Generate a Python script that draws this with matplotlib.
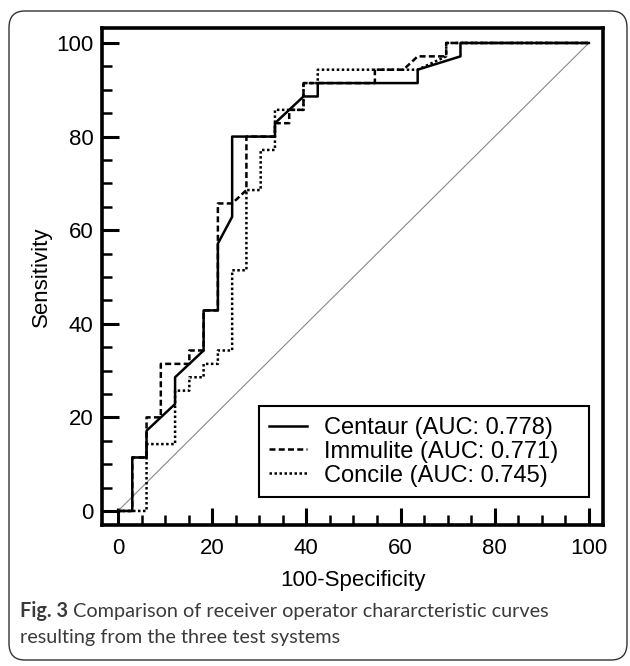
import matplotlib
matplotlib.use("Agg")
import matplotlib.pyplot as plt
from matplotlib.patches import FancyBboxPatch
from matplotlib.ticker import MultipleLocator

# ROC curves (100-specificity, sensitivity)
centaur_x = [0, 3.03, 3.03, 6.06, 6.06, 12.12, 12.12, 18.18, 18.18, 21.21, 21.21,
             24.24, 24.24, 33.33, 33.33, 39.39, 42.42, 42.42, 63.64, 63.64, 72.73,
             72.73, 100]
centaur_y = [0, 0, 11.43, 11.43, 17.14, 22.86, 28.57, 34.29, 42.86, 42.86, 57.14,
             62.86, 80, 80, 82.86, 88.57, 88.57, 91.43, 91.43, 94.29, 97.14,
             100, 100]

immulite_x = [0, 3.03, 3.03, 6.06, 6.06, 9.09, 9.09, 15.15, 15.15, 18.18, 18.18,
              21.21, 21.21, 24.24, 27.27, 27.27, 33.33, 33.33, 36.36, 36.36, 39.39,
              39.39, 54.55, 54.55, 60.61, 63.64, 69.70, 69.70, 100]
immulite_y = [0, 0, 11.43, 11.43, 20, 20, 31.43, 31.43, 34.29, 34.29, 42.86,
              42.86, 65.71, 65.71, 68.57, 80, 80, 82.86, 82.86, 85.71, 85.71,
              91.43, 91.43, 94.29, 94.29, 97.14, 97.14, 100, 100]

concile_x = [0, 6.06, 6.06, 12.12, 12.12, 15.15, 15.15, 18.18, 18.18, 21.21, 21.21,
             24.24, 24.24, 27.27, 27.27, 30.30, 30.30, 33.33, 33.33, 39.39, 39.39,
             42.42, 42.42, 63.64, 69.70, 69.70, 100]
concile_y = [0, 0, 14.29, 14.29, 25.71, 25.71, 28.57, 28.57, 31.43, 31.43, 34.29,
             34.29, 51.43, 51.43, 68.57, 68.57, 77.14, 77.14, 85.71, 85.71, 91.43,
             91.43, 94.29, 94.29, 97.14, 100, 100]

labels = ["Centaur (AUC: 0.778)", "Immulite (AUC: 0.771)", "Concile (AUC: 0.745)"]
ticks = [0, 20, 40, 60, 80, 100]

W, H = 630, 666
fig = plt.figure(figsize=(W / 100, H / 100), dpi=100)

# rounded frame around the whole figure panel
frame = FancyBboxPatch((9 / W, 6 / H), 618 / W, 649 / H,
                       boxstyle="round,pad=0,rounding_size=0.025",
                       transform=fig.transFigure, fill=False,
                       edgecolor="#333333", linewidth=1.0)
fig.patches.append(frame)

ax = fig.add_axes([102 / W, 1 - 525 / H, 501 / W, 497 / H])

ax.plot([0, 100], [0, 100], color="#888888", linewidth=0.8)
ax.plot(centaur_x, centaur_y, color="black", linewidth=1.8, linestyle="-",
        label=labels[0])
ax.plot(immulite_x, immulite_y, color="black", linewidth=1.8,
        linestyle=(0, (2.4, 1.3)), label=labels[1])
ax.plot(concile_x, concile_y, color="black", linewidth=1.8,
        linestyle=(0, (1, 1)), label=labels[2])

ax.set_xlim(-3.4, 103)
ax.set_ylim(-3.0, 103.2)
ax.set_xticks(ticks)
ax.set_yticks(ticks)
ax.xaxis.set_minor_locator(MultipleLocator(5))
ax.yaxis.set_minor_locator(MultipleLocator(5))

font = "Liberation Sans"
ax.tick_params(which="major", direction="in", length=12, width=2.2,
               labelsize=16)
ax.tick_params(axis="x", which="major", pad=9)
ax.tick_params(axis="y", which="major", pad=6)
ax.tick_params(which="minor", direction="in", length=7, width=1.8)
for lab in ax.get_xticklabels() + ax.get_yticklabels():
    lab.set_fontfamily(font)
for sp in ax.spines.values():
    sp.set_linewidth(2.6)

ax.set_xlabel("100-Specificity", fontsize=16, family=font, labelpad=8)
ax.set_ylabel("Sensitivity", fontsize=16, family=font, labelpad=3)

leg = ax.legend(loc="lower left", bbox_to_anchor=(0.313, 0.056, 0.659, 0.193),
                mode="expand", borderaxespad=0, fancybox=False, framealpha=1,
                edgecolor="black", handlelength=1.6, handletextpad=0.7,
                labelspacing=0.08, borderpad=0.45,
                prop={"family": font, "size": 17})
leg.get_frame().set_linewidth(1.5)

cap_color = "#3a3a3a"
cap_font = "Lato"
t = fig.text(20 / W, 1 - 611 / H, "Fig. 3", fontsize=14.3, fontweight="bold",
             family=cap_font, color=cap_color, va="center")
fig.canvas.draw()
bb = t.get_window_extent()
fig.text((bb.x1 + 5) / W, 1 - 611 / H,
         "Comparison of receiver operator chararcteristic curves",
         fontsize=14.3, family=cap_font, color=cap_color, va="center")
fig.text(20 / W, 1 - 638 / H, "resulting from the three test systems",
         fontsize=14.3, family=cap_font, color=cap_color, va="center")

fig.savefig("out.png", dpi=100)
